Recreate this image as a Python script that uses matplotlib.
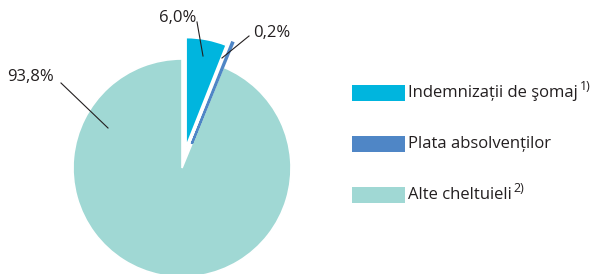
import matplotlib.pyplot as plt
from matplotlib.patches import Rectangle

labels = ["Indemnizații de şomaj", "Plata absolvenților", "Alte cheltuieli"]
notes = ["1)", "", "2)"]
values = [6.0, 0.2, 93.8]
value_text = ["6,0%", "0,2%", "93,8%"]
colors = ["#00b5de", "#4f86c6", "#a0d8d4"]
explode = [0.2, 0.24, 0]

plt.rcParams['font.family'] = ['Open Sans', 'DejaVu Sans']

W, H = 597, 274
fig = plt.figure(figsize=(W / 100, H / 100), dpi=100)
ax = fig.add_axes([0, 0, 1, 1])

cx, cy, R = 182, 274 - 168, 109
# pie explode is in data units, so scale the fractions by the radius
wedges, _ = ax.pie(values, colors=colors, explode=[e * R for e in explode], startangle=90,
                   counterclock=False, center=(cx, cy), radius=R,
                   wedgeprops=dict(edgecolor="white", linewidth=1.2))
# the tiny slice would vanish under a white edge; give it its own colour as edge
wedges[1].set_edgecolor(colors[1])
wedges[1].set_linewidth(1.6)
wedges[1].set_zorder(3)

ax.set_xlim(0, W)
ax.set_ylim(0, H)
ax.set_aspect("equal")
ax.axis("off")

# value labels with leader lines (pixel coords from top)
lab_pos = [(178, 18), (272, 33), (30, 77)]
line_from = [(197, 22), (249, 36), (61, 83)]
line_to = [(203, 56), (222, 58), (108, 128)]
for txt, (tx, ty), (x0, y0), (x1, y1) in zip(value_text, lab_pos, line_from, line_to):
    ax.text(tx, H - ty, txt, ha="center", va="center", fontsize=12, color="#231f20")
    ax.plot([x0, x1], [H - y0, H - y1], color="#231f20", lw=0.8, zorder=4)

# legend
box_x, box_w, box_h = 352, 53, 16
rows_y = [93, 144, 195]
for lab, note, col, ry in zip(labels, notes, colors, rows_y):
    ax.add_patch(Rectangle((box_x, H - ry - box_h / 2), box_w, box_h, facecolor=col, edgecolor="none"))
    t = ax.text(box_x + box_w + 3, H - ry, lab, ha="left", va="center", fontsize=12, color="#231f20")
    if note:
        ax.annotate(note, xy=(1, 0.5), xycoords=t, xytext=(1.5, 0), textcoords="offset points",
                    ha="left", va="bottom", fontsize=9, color="#231f20")

fig.savefig("out.png", dpi=100)
